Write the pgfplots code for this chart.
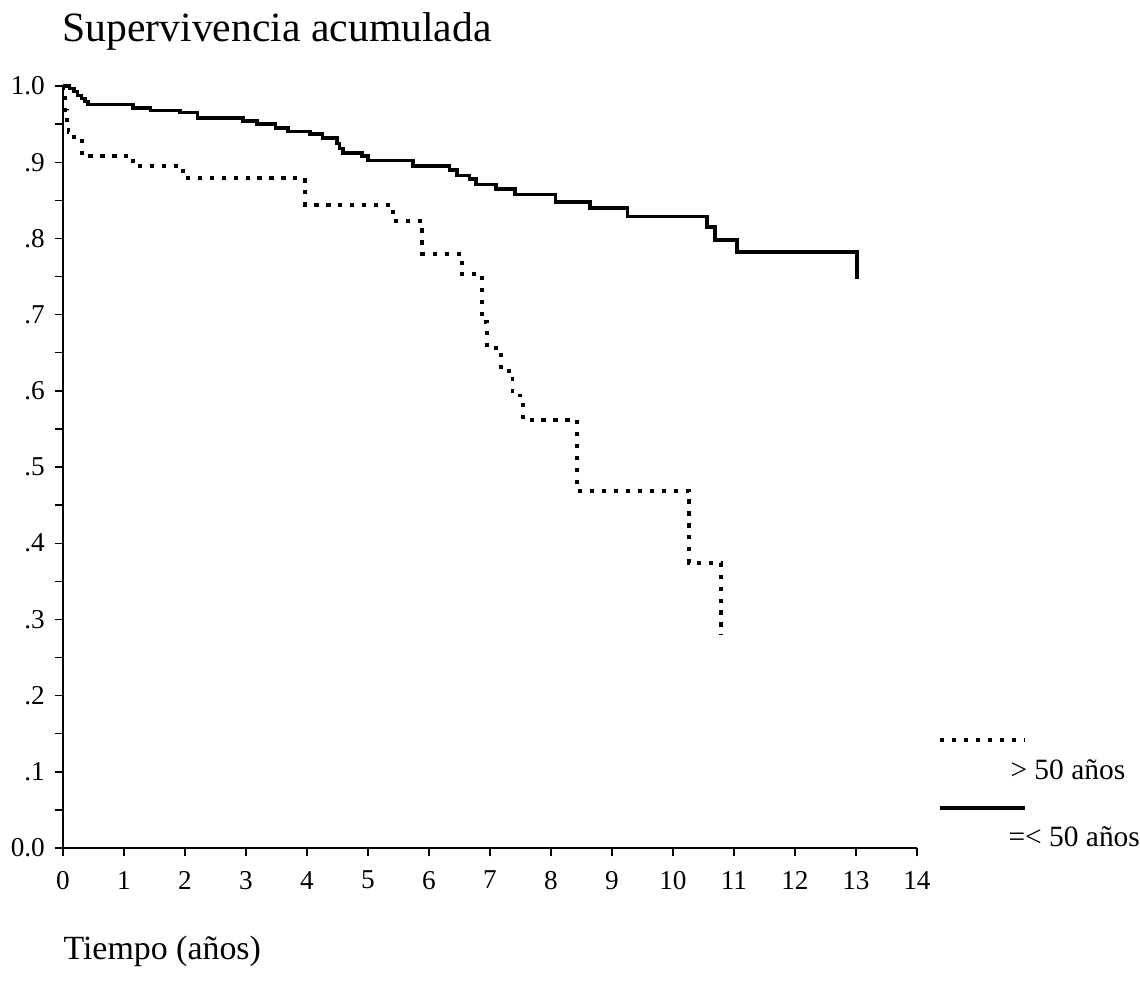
\documentclass[border=0pt]{standalone}
\usepackage{fontspec}
\setmainfont{Liberation Serif}
\usepackage{pgfplots}
\pgfplotsset{compat=1.18}
\begin{document}
\begin{tikzpicture}
\useasboundingbox (-22.68pt,-48.96pt) rectangle (387.72pt,305.28pt);
\begin{axis}[
  at={(0pt,0pt)}, anchor=south west,
  scale only axis,
  width=307.4pt, height=274.3pt,
  xmin=0, xmax=14, ymin=0, ymax=1,
  axis lines=left,
  axis line style={-, line width=0.5pt},
  clip=false,
  tick align=outside,
  major tick length=3pt, minor tick length=3pt,
  tick style={line width=0.5pt, black},
  xtick={0,1,...,14},
  xticklabels={0,1,2,3,4,5,6,7,8,9,10,11,12,13,14},
  ytick={0,0.1,0.2,0.3,0.4,0.5,0.6,0.7,0.8,0.9,1.0},
  yticklabels={0.0,.1,.2,.3,.4,.5,.6,.7,.8,.9,1.0},
  minor ytick={0.05,0.15,0.25,0.35,0.45,0.55,0.65,0.75,0.85,0.95},
  ticklabel style={font=\fontsize{9.8}{11}\selectfont},
  xticklabel style={yshift=-1.8pt},
]
% > 50 anos (dotted)
\addplot[const plot, black, line width=1.35pt, dash pattern=on 1.5pt off 2.8pt] coordinates {
(0,1.0) (0.01,0.985) (0.03,0.968) (0.06,0.952) (0.09,0.94) (0.12,0.933)
(0.31,0.908) (1.15,0.895) (1.97,0.879) (3.97,0.844) (5.41,0.823)
(5.89,0.780) (6.54,0.753) (6.87,0.69) (6.95,0.656) (7.18,0.626)
(7.37,0.594) (7.54,0.562) (8.43,0.469) (10.26,0.374) (10.79,0.28)
};
% =< 50 anos (solid)
\addplot[const plot, black, line width=1.2pt] coordinates {
(0,1.0) (0.11,0.997) (0.18,0.993) (0.24,0.988) (0.30,0.984) (0.36,0.980)
(0.41,0.976) (1.15,0.971) (1.43,0.968) (1.92,0.965) (2.21,0.958)
(2.95,0.954) (3.18,0.950) (3.48,0.945) (3.69,0.940) (4.05,0.937)
(4.26,0.932) (4.49,0.925) (4.53,0.918) (4.59,0.912) (4.90,0.908)
(5.00,0.902) (5.74,0.895) (6.34,0.890) (6.46,0.883) (6.67,0.878)
(6.77,0.871) (7.10,0.865) (7.41,0.858) (8.08,0.848) (8.64,0.840)
(9.25,0.829) (10.56,0.815) (10.69,0.798) (11.05,0.782) (13.02,0.747)
};
\end{axis}
% title and x label
\node[anchor=base west, inner sep=0pt, font=\fontsize{15}{18}\selectfont] at (-0.4pt,290.2pt) {Supervivencia acumulada};
\node[anchor=base west, inner sep=0pt, font=\fontsize{12.2}{14}\selectfont] at (0pt,-40.3pt) {Tiempo (años)};
% legend
\draw[black, line width=1.35pt, dash pattern=on 1.5pt off 2.8pt] (315.7pt,38.9pt) -- (346.3pt,38.9pt);
\node[anchor=base west, inner sep=0pt, font=\fontsize{10.6}{12}\selectfont] at (340.9pt,24.5pt) {> 50 años};
\draw[black, line width=1.2pt] (315.7pt,14.4pt) -- (346.3pt,14.4pt);
\node[anchor=base west, inner sep=0pt, font=\fontsize{10.6}{12}\selectfont] at (340.2pt,0.4pt) {=< 50 años};
\end{tikzpicture}
\end{document}
